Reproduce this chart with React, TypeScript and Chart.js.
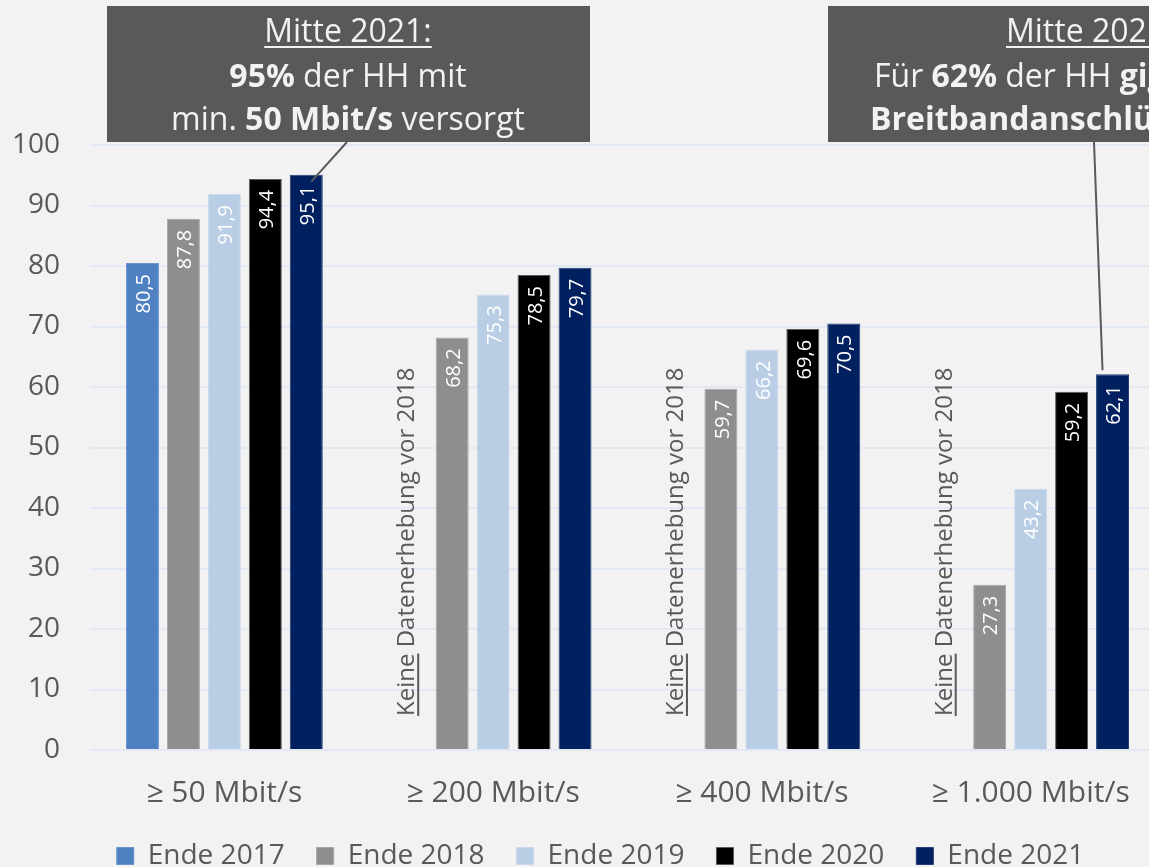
import React, { useEffect, useRef } from "react";
import { Chart, registerables } from "chart.js";

Chart.register(...registerables);

// ---------- data ----------
const categories = ["≥ 50 Mbit/s", "≥ 200 Mbit/s", "≥ 400 Mbit/s", "≥ 1.000 Mbit/s"];
const seriesLabels = ["Ende 2017", "Ende 2018", "Ende 2019", "Ende 2020", "Ende 2021"];
const ende2017: (number | null)[] = [80.5, null, null, null];
const ende2018: (number | null)[] = [87.8, 68.2, 59.7, 27.3];
const ende2019: (number | null)[] = [91.9, 75.3, 66.2, 43.2];
const ende2020: (number | null)[] = [94.4, 78.5, 69.6, 59.2];
const ende2021: (number | null)[] = [95.1, 79.7, 70.5, 62.1];
const yMin = 0;
const yMax = 100;
const yStep = 10;
const noDataNoteUnderlined = "Keine";
const noDataNoteRest = " Datenerhebung vor 2018";

const callout1Lines = [
  [{ t: "Mitte 2021:", u: true }],
  [{ t: "95%", b: true }, { t: " der HH mit" }],
  [{ t: "min. " }, { t: "50 Mbit/s", b: true }, { t: " versorgt" }],
];
const callout2Lines = [
  [{ t: "Mitte 2021:", u: true }],
  [{ t: "Für " }, { t: "62%", b: true }, { t: " der HH " }, { t: "gigabitfähige", b: true }],
  [{ t: "Breitbandanschlüsse", b: true }, { t: " verfügbar" }],
];

// ---------- styles ----------
const FONT = '"Open Sans", "Noto Sans", sans-serif';
const TEXT_GRAY = "#595959";
const BG = "#f2f2f2";
const seriesColors = ["#4f81c2", "#8e8e8e", "#b9cde5", "#000000", "#002060"];
const seriesBorders = ["#6b95cc", "#a6a6a6", "#c9d8eb", "#595959", "#243f78"];

const fmt = (v: number) => v.toFixed(1).replace(".", ",");

type Run = { t: string; b?: boolean; u?: boolean };

function drawRuns(ctx: CanvasRenderingContext2D, runs: Run[], x: number, y: number, align: "center" | "left", size: number, color: string) {
  const fontOf = (r: Run) => `${r.b ? "bold " : ""}${size}px ${FONT}`;
  let total = 0;
  const widths = runs.map((r) => {
    ctx.font = fontOf(r);
    const w = ctx.measureText(r.t).width;
    total += w;
    return w;
  });
  let cx = align === "center" ? x - total / 2 : x;
  ctx.fillStyle = color;
  ctx.textAlign = "left";
  ctx.textBaseline = "alphabetic";
  runs.forEach((r, i) => {
    ctx.font = fontOf(r);
    ctx.fillText(r.t, cx, y);
    if (r.u) {
      ctx.fillRect(cx, y + 4, widths[i], 2);
    }
    cx += widths[i];
  });
}

const decorPlugin = {
  id: "decor",
  afterLayout(chart: any) {
    if (chart.legend) {
      chart.legend.left += 13;
      chart.legend.right += 13;
      chart.legend.top -= 6;
      chart.legend.bottom -= 6;
    }
  },
  afterDatasetsDraw(chart: any) {
    const ctx: CanvasRenderingContext2D = chart.ctx;
    const yScale = chart.scales.y;
    chart.data.datasets.forEach((ds: any, di: number) => {
      const meta = chart.getDatasetMeta(di);
      meta.data.forEach((el: any, i: number) => {
        const v = ds.data[i];
        if (v == null) return;
        ctx.save();
        ctx.translate(el.x + 2, el.y + 11);
        ctx.rotate(-Math.PI / 2);
        ctx.font = `20px ${FONT}`;
        ctx.fillStyle = "#ffffff";
        ctx.textAlign = "right";
        ctx.textBaseline = "middle";
        ctx.fillText(fmt(v), 0, 0);
        ctx.restore();
      });
    });
    const meta0 = chart.getDatasetMeta(0);
    const zero = yScale.getPixelForValue(0);
    chart.data.datasets[0].data.forEach((v: any, i: number) => {
      if (v != null) return;
      const el = meta0.data[i];
      ctx.save();
      ctx.translate(el.x + 3, zero - 34);
      ctx.rotate(-Math.PI / 2);
      ctx.font = `24px ${FONT}`;
      ctx.fillStyle = TEXT_GRAY;
      ctx.textAlign = "left";
      ctx.textBaseline = "alphabetic";
      ctx.fillText(noDataNoteUnderlined + noDataNoteRest, 0, 0);
      const w = ctx.measureText(noDataNoteUnderlined).width;
      ctx.fillRect(0, 3, w, 2);
      ctx.restore();
    });
  },
  afterDraw(chart: any) {
    const ctx: CanvasRenderingContext2D = chart.ctx;
    ctx.save();
    ctx.fillStyle = TEXT_GRAY;
    ctx.fillRect(107, 6, 483, 136);
    const b1 = [42, 87, 130];
    callout1Lines.forEach((l, i) => drawRuns(ctx, l as Run[], 348, b1[i], "center", 32, BG));
    ctx.fillStyle = TEXT_GRAY;
    ctx.fillRect(828, 6, 540, 136);
    const x2 = [1006, 874, 870];
    callout2Lines.forEach((l, i) => drawRuns(ctx, l as Run[], x2[i], b1[i], "left", 32, BG));
    ctx.strokeStyle = TEXT_GRAY;
    ctx.lineWidth = 2;
    const e1 = chart.getDatasetMeta(4).data[0];
    ctx.beginPath();
    ctx.moveTo(347, 142);
    ctx.lineTo(e1.x + 5, e1.y + 7);
    ctx.stroke();
    const e2 = chart.getDatasetMeta(4).data[3];
    ctx.beginPath();
    ctx.moveTo(1094, 142);
    ctx.lineTo(e2.x - 10, e2.y - 4);
    ctx.stroke();
    ctx.restore();
  },
};

export default function App() {
  const ref = useRef<HTMLCanvasElement | null>(null);
  useEffect(() => {
    if (!ref.current) return;
    const allSeries = [ende2017, ende2018, ende2019, ende2020, ende2021];
    const chart = new Chart(ref.current, {
      type: "bar",
      data: {
        labels: categories,
        datasets: allSeries.map((d, i) => ({
          label: seriesLabels[i],
          data: d,
          backgroundColor: seriesColors[i],
          borderColor: seriesBorders[i],
          borderWidth: 1,
          categoryPercentage: 0.762,
          barPercentage: 0.805,
        })),
      },
      options: {
        responsive: false,
        animation: false,
        layout: { padding: { top: 145, left: 10, right: 15, bottom: 0 } },
        scales: {
          x: {
            grid: { display: false },
            border: { display: false },
            ticks: { color: TEXT_GRAY, font: { family: FONT, size: 30 }, padding: 17 },
            afterFit: (s: any) => {
              s.height = 66;
            },
          },
          y: {
            min: yMin,
            max: yMax,
            ticks: { stepSize: yStep, color: TEXT_GRAY, font: { family: FONT, size: 28 }, padding: 30 },
            grid: { color: "#e2e9f5", lineWidth: 2, drawTicks: false },
            border: { display: false },
            afterFit: (s: any) => {
              s.width = 80;
            },
          },
        },
        plugins: {
          legend: {
            position: "bottom",
            labels: {
              boxWidth: 17,
              boxHeight: 17,
              padding: 32,
              color: TEXT_GRAY,
              font: { family: FONT, size: 28 },
            },
          },
          tooltip: { enabled: false },
        },
      },
      plugins: [decorPlugin],
    } as any);
    return () => chart.destroy();
  }, []);
  return (
    <div
      style={{
        position: "fixed",
        left: 0,
        top: 0,
        width: 1149,
        height: 867,
        overflow: "hidden",
        background: BG,
      }}
    >
      <canvas ref={ref} width={1180} height={886} style={{ display: "block" }} />
    </div>
  );
}
